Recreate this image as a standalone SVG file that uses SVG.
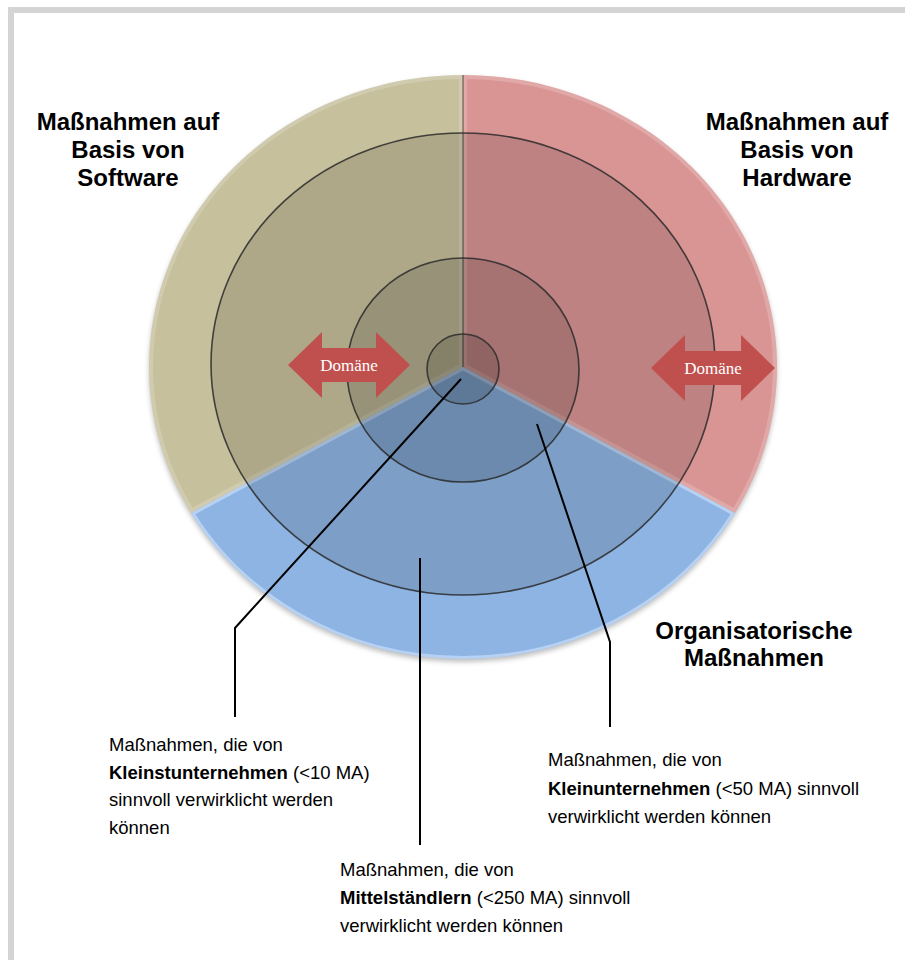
<svg xmlns="http://www.w3.org/2000/svg" width="905" height="960" viewBox="0 0 905 960">
<style>
.title{font-family:"Liberation Sans",Arial,sans-serif;font-size:24px;font-weight:bold;fill:#000;text-anchor:middle}
.body{font-family:"Liberation Sans",Arial,sans-serif;font-size:18.5px;fill:#000}
.b{font-weight:bold}
.ring{fill:#000;fill-opacity:0.12;stroke:#2a2a2a;stroke-opacity:0.85;stroke-width:1.6}
.arrow{fill:#C0504D}
.dom{font-family:"Liberation Serif","Times New Roman",serif;font-size:17px;fill:#FFFFFF;text-anchor:middle}
.call{fill:none;stroke:#000;stroke-width:2}
.bevel{fill:none;stroke:#fff;stroke-opacity:0.18;stroke-width:8}
</style>
<defs>
<clipPath id="cT"><path d="M463,367 L463,75 A314,292 0 0,0 191.1,513 Z"/></clipPath>
<clipPath id="cR"><path d="M463,367 L463,75 A314,292 0 0,1 734.9,513 Z"/></clipPath>
<clipPath id="cB"><path d="M463,367 L191.1,513 A314,292 0 0,0 734.9,513 Z"/></clipPath>
<filter id="sh" x="-10%" y="-10%" width="120%" height="120%"><feGaussianBlur stdDeviation="2.5"/></filter>
</defs>
<rect width="905" height="960" fill="#fff"/>
<rect x="8" y="7" width="897" height="6" fill="#D4D4D4"/>
<rect x="8" y="7" width="6" height="953" fill="#D4D4D4"/>

<g id="chart">
<ellipse cx="463" cy="370" rx="314" ry="292" fill="#000" fill-opacity="0.25" filter="url(#sh)"/>
<g id="sector-software">
<path d="M463,367 L463,75 A314,292 0 0,0 191.1,513 Z" fill="#C6C09D"/>
<path d="M463,367 L463,75 A314,292 0 0,0 191.1,513 Z" class="bevel" clip-path="url(#cT)"/>
</g>
<g id="sector-hardware">
<path d="M463,367 L463,75 A314,292 0 0,1 734.9,513 Z" fill="#D99594"/>
<path d="M463,367 L463,75 A314,292 0 0,1 734.9,513 Z" class="bevel" clip-path="url(#cR)"/>
</g>
<g id="sector-org">
<path d="M463,367 L191.1,513 A314,292 0 0,0 734.9,513 Z" fill="#8EB4E3"/>
<path d="M463,367 L191.1,513 A314,292 0 0,0 734.9,513 Z" fill="none" stroke="#D2E5FB" stroke-opacity="0.6" stroke-width="6" clip-path="url(#cB)"/>
</g>
<line x1="463" y1="75" x2="463" y2="367" stroke="#000" stroke-opacity="0.4" stroke-width="1.5"/>
<g id="rings">
<ellipse class="ring" cx="463" cy="364" rx="252" ry="231"/>
<ellipse class="ring" cx="463" cy="370" rx="116" ry="112"/>
<ellipse class="ring" cx="463" cy="369" rx="36" ry="35"/>
</g>
</g>

<g id="arrow-left">
<path class="arrow" d="M288,365 L322,332 L322,348 L376,348 L376,332 L410,365 L376,398 L376,382 L322,382 L322,398 Z"/>
<text class="dom" x="349" y="371">Domäne</text>
</g>
<g id="arrow-right">
<path class="arrow" d="M651,368 L685,335 L685,351 L741,351 L741,335 L775,368 L741,401 L741,385 L685,385 L685,401 Z"/>
<text class="dom" x="713" y="374">Domäne</text>
</g>

<g id="connectors">
<polyline class="call" points="461,379 235,628 235,717"/>
<line class="call" x1="420" y1="558" x2="420" y2="845"/>
<polyline class="call" points="537,424 610,642 610,727"/>
</g>

<g id="label-software">
<text class="title" x="128" y="130">Maßnahmen auf</text>
<text class="title" x="128" y="158">Basis von</text>
<text class="title" x="128" y="186">Software</text>
</g>
<g id="label-hardware">
<text class="title" x="797" y="130">Maßnahmen auf</text>
<text class="title" x="797" y="158">Basis von</text>
<text class="title" x="797" y="186">Hardware</text>
</g>
<g id="label-org">
<text class="title" x="754" y="639">Organisatorische</text>
<text class="title" x="754" y="666">Maßnahmen</text>
</g>

<g id="note-kleinst">
<text class="body" x="109" y="751">Maßnahmen, die von</text>
<text class="body" x="109" y="778.5"><tspan class="b">Kleinstunternehmen</tspan> (&lt;10 MA)</text>
<text class="body" x="109" y="806">sinnvoll verwirklicht werden</text>
<text class="body" x="109" y="833.5">können</text>
</g>
<g id="note-klein">
<text class="body" x="548" y="766">Maßnahmen, die von</text>
<text class="body" x="548" y="794.5"><tspan class="b">Kleinunternehmen</tspan> (&lt;50 MA) sinnvoll</text>
<text class="body" x="548" y="823">verwirklicht werden können</text>
</g>
<g id="note-mittel">
<text class="body" x="340" y="876">Maßnahmen, die von</text>
<text class="body" x="340" y="904"><tspan class="b">Mittelständlern</tspan> (&lt;250 MA) sinnvoll</text>
<text class="body" x="340" y="932">verwirklicht werden können</text>
</g>
</svg>
